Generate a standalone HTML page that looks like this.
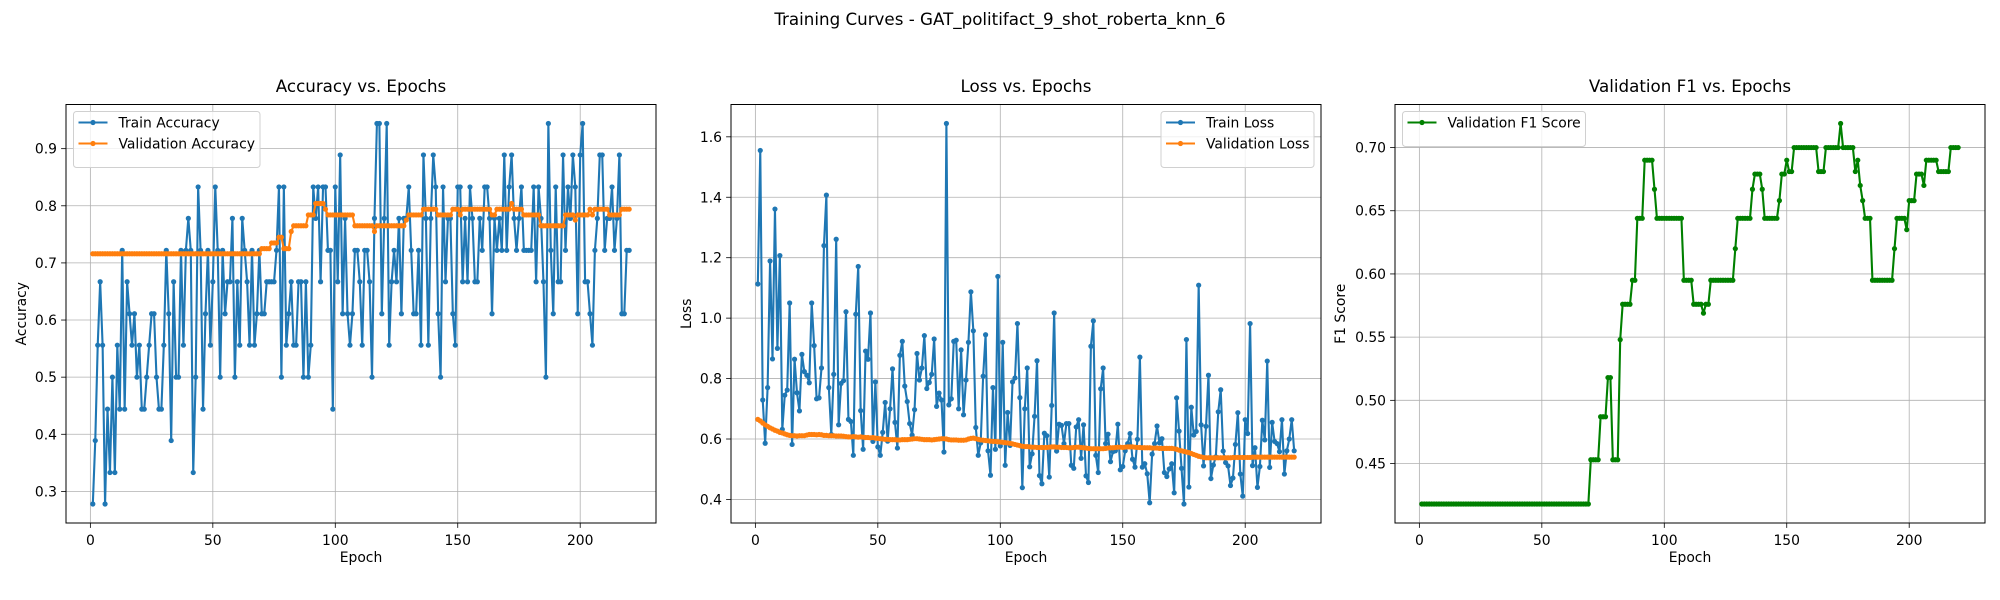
<!DOCTYPE html>
<html><head><meta charset="utf-8">
<style>
html,body{margin:0;padding:0;background:#fff;}
svg{display:block;font-family:"DejaVu Sans","Liberation Sans",sans-serif;}
</style></head>
<body>
<svg id="fig" width="2000" height="600" viewBox="0 0 2000 600" xmlns="http://www.w3.org/2000/svg">
<rect x="0" y="0" width="2000" height="600" fill="#fff"/>
<text x="1000" y="25" text-anchor="middle" font-size="16.7">Training Curves - GAT_politifact_9_shot_roberta_knn_6</text>
</svg>
<script>
const trainAcc = [
.278,.389,.556,.667,.556,.278,.444,.333,.5,.333,
.556,.444,.722,.444,.667,.611,.556,.611,.5,.556,
.444,.444,.5,.556,.611,.611,.5,.444,.444,.556,
.722,.611,.389,.667,.5,.5,.722,.556,.722,.778,
.722,.333,.5,.833,.722,.444,.611,.722,.556,.667,
.833,.722,.5,.722,.611,.667,.667,.778,.5,.667,
.556,.778,.722,.667,.556,.722,.556,.611,.722,.611,
.611,.667,.667,.667,.667,.722,.833,.5,.833,.556,
.611,.667,.556,.556,.667,.667,.5,.667,.5,.556,
.833,.778,.833,.667,.833,.833,.722,.722,.444,.833,
.667,.889,.611,.778,.611,.556,.611,.722,.722,.667,
.556,.722,.722,.667,.5,.778,.944,.944,.611,.778,
.944,.556,.667,.722,.667,.778,.611,.778,.778,.833,
.722,.611,.611,.722,.556,.889,.778,.556,.778,.889,
.833,.611,.5,.833,.667,.778,.778,.611,.556,.833,
.833,.667,.778,.667,.833,.778,.667,.667,.778,.722,
.833,.833,.778,.611,.778,.722,.778,.722,.889,.722,
.833,.889,.778,.722,.778,.833,.722,.722,.722,.722,
.833,.667,.833,.778,.667,.5,.944,.722,.611,.833,
.667,.667,.889,.722,.833,.778,.889,.833,.611,.889,
.944,.667,.667,.611,.556,.722,.778,.889,.889,.722,
.778,.778,.833,.722,.778,.889,.611,.611,.722,.722];
const valAcc = [
.716,.716,.716,.716,.716,.716,.716,.716,.716,.716,
.716,.716,.716,.716,.716,.716,.716,.716,.716,.716,
.716,.716,.716,.716,.716,.716,.716,.716,.716,.716,
.716,.716,.716,.716,.716,.716,.716,.716,.716,.716,
.716,.716,.716,.716,.716,.716,.716,.716,.716,.716,
.716,.716,.716,.716,.716,.716,.716,.716,.716,.716,
.716,.716,.716,.716,.716,.716,.716,.716,.716,.725,
.725,.725,.725,.735,.735,.735,.745,.745,.725,.725,
.725,.755,.765,.765,.765,.765,.765,.765,.784,.784,
.784,.804,.804,.804,.804,.794,.784,.784,.784,.784,
.784,.784,.784,.784,.784,.784,.784,.765,.765,.765,
.765,.765,.765,.765,.765,.755,.765,.765,.765,.765,
.765,.765,.765,.765,.765,.765,.765,.765,.775,.784,
.784,.784,.784,.784,.784,.794,.794,.794,.794,.794,
.794,.784,.784,.784,.784,.784,.784,.794,.794,.794,
.784,.794,.794,.794,.794,.794,.794,.794,.794,.794,
.794,.794,.794,.784,.784,.794,.794,.794,.794,.794,
.794,.804,.794,.794,.794,.794,.784,.784,.784,.784,
.784,.784,.784,.765,.765,.765,.765,.765,.765,.765,
.765,.765,.765,.784,.784,.784,.784,.775,.784,.784,
.784,.784,.784,.794,.784,.794,.794,.794,.794,.794,
.794,.784,.784,.784,.784,.784,.794,.794,.794,.794];
const trainLoss = [
1.113,1.555,.729,.586,.770,1.189,.865,1.361,.900,1.207,
.632,.745,.762,1.050,.582,.864,.753,.693,.880,.823,
.811,.786,1.050,.909,.733,.736,.835,1.240,1.407,.770,
.615,.814,1.261,.647,.784,.793,1.021,.665,.658,.546,
1.013,1.171,.694,.566,.891,.864,1.017,.592,.789,.574,
.546,.622,.721,.593,.700,.832,.655,.570,.877,.923,
.775,.724,.651,.613,.697,.883,.795,.835,.942,.767,
.787,.814,.931,.708,.752,.729,.557,1.644,.713,.733,
.923,.927,.700,.895,.680,.795,.920,1.087,.958,.638,
.546,.587,.808,.945,.561,.480,.770,.566,1.138,.577,
.920,.513,.688,.579,.789,.802,.982,.737,.439,.700,
.835,.508,.551,.675,.859,.479,.452,.619,.611,.474,
.711,1.017,.560,.649,.645,.585,.651,.651,.513,.503,
.640,.664,.536,.647,.478,.456,.907,.991,.546,.489,
.766,.835,.585,.616,.525,.558,.561,.649,.498,.509,
.561,.585,.618,.533,.507,.599,.871,.507,.518,.485,
.389,.550,.585,.643,.587,.601,.489,.476,.501,.518,
.422,.736,.626,.503,.385,.929,.441,.705,.613,.625,
1.109,.647,.511,.642,.811,.469,.514,.541,.690,.763,
.560,.522,.511,.446,.471,.582,.687,.484,.411,.664,
.618,.982,.512,.571,.440,.509,.662,.597,.858,.506,
.655,.592,.585,.558,.664,.484,.561,.600,.664,.561];
const valLoss = [
.665,.660,.653,.647,.642,.637,.633,.629,.626,.622,
.620,.617,.614,.612,.611,.611,.610,.611,.611,.611,
.613,.615,.615,.615,.614,.615,.614,.612,.612,.611,
.611,.611,.610,.610,.610,.609,.608,.607,.607,.608,
.607,.606,.607,.606,.605,.605,.604,.605,.603,.602,
.601,.600,.599,.599,.598,.598,.598,.597,.597,.598,
.598,.598,.599,.600,.601,.601,.600,.599,.598,.598,
.598,.597,.598,.599,.600,.601,.601,.600,.598,.597,
.597,.597,.596,.596,.596,.597,.600,.602,.603,.601,
.599,.597,.596,.595,.594,.593,.592,.592,.591,.590,
.589,.588,.587,.586,.584,.582,.580,.578,.576,.575,
.575,.574,.573,.573,.572,.572,.572,.572,.572,.573,
.574,.574,.573,.573,.572,.572,.572,.571,.571,.572,
.573,.573,.572,.571,.570,.569,.568,.568,.568,.568,
.568,.568,.569,.570,.571,.571,.572,.573,.573,.572,
.573,.574,.574,.574,.573,.572,.572,.571,.571,.571,
.571,.570,.570,.570,.569,.569,.569,.569,.569,.569,
.568,.566,.563,.561,.559,.557,.555,.552,.549,.546,
.543,.541,.539,.538,.538,.538,.538,.538,.538,.538,
.538,.538,.538,.538,.539,.539,.539,.539,.539,.539,
.539,.539,.540,.540,.540,.540,.540,.540,.540,.540,
.540,.540,.540,.540,.540,.540,.540,.540,.540,.540];
const valF1 = [
.418,.418,.418,.418,.418,.418,.418,.418,.418,.418,
.418,.418,.418,.418,.418,.418,.418,.418,.418,.418,
.418,.418,.418,.418,.418,.418,.418,.418,.418,.418,
.418,.418,.418,.418,.418,.418,.418,.418,.418,.418,
.418,.418,.418,.418,.418,.418,.418,.418,.418,.418,
.418,.418,.418,.418,.418,.418,.418,.418,.418,.418,
.418,.418,.418,.418,.418,.418,.418,.418,.418,.453,
.453,.453,.453,.487,.487,.487,.518,.518,.453,.453,
.453,.548,.576,.576,.576,.576,.595,.595,.644,.644,
.644,.690,.690,.690,.690,.667,.644,.644,.644,.644,
.644,.644,.644,.644,.644,.644,.644,.595,.595,.595,
.595,.576,.576,.576,.576,.569,.576,.576,.595,.595,
.595,.595,.595,.595,.595,.595,.595,.595,.620,.644,
.644,.644,.644,.644,.644,.667,.679,.679,.679,.667,
.644,.644,.644,.644,.644,.644,.658,.679,.679,.690,
.681,.681,.700,.700,.700,.700,.700,.700,.700,.700,
.700,.700,.681,.681,.681,.700,.700,.700,.700,.700,
.700,.719,.700,.700,.700,.700,.700,.681,.690,.670,
.658,.644,.644,.644,.595,.595,.595,.595,.595,.595,
.595,.595,.595,.620,.644,.644,.644,.644,.635,.658,
.658,.658,.679,.679,.679,.670,.690,.690,.690,.690,
.690,.681,.681,.681,.681,.681,.700,.700,.700,.700];
const xTicks = [0,50,100,150,200];
const accTicks = [0.3,0.4,0.5,0.6,0.7,0.8,0.9];
const lossTicks = [0.4,0.6,0.8,1.0,1.2,1.4,1.6];
const f1Ticks = [0.45,0.50,0.55,0.60,0.65,0.70];

const NS = 'http://www.w3.org/2000/svg';
const fig = document.getElementById('fig');
const TOP = 104.5, BOT = 523;

function mk(tag, attrs, parent){
  const e = document.createElementNS(NS, tag);
  for (const k in attrs) e.setAttribute(k, attrs[k]);
  (parent||fig).appendChild(e);
  return e;
}

function panel(cfg){
  const g = mk('g', {});
  
  
  const L = cfg.left, R = cfg.left + 590;
  const n = Math.max(...cfg.series.map(s => s.data.length));
  const xr = n - 1, x0 = 1 - 0.05*xr, x1 = n + 0.05*xr;
  const all = [].concat(...cfg.series.map(s => s.data));
  const mn = Math.min(...all), mx = Math.max(...all), pad = (mx - mn)*0.05;
  const y0 = mn - pad, y1 = mx + pad;
  const X = v => L + (v - x0)/(x1 - x0)*(R - L);
  const Y = v => BOT - (v - y0)/(y1 - y0)*(BOT - TOP);
  xTicks.forEach(t => {
    const xx = X(t);
    const gl = mk('line', {x1:xx, x2:xx, y1:TOP, y2:BOT, stroke:'#b0b0b0', 'stroke-width':0.8}, g);
    
    
    mk('line', {x1:xx, x2:xx, y1:BOT, y2:BOT+4.9, stroke:'#000', 'stroke-width':0.8}, g);
    const tl = mk('text', {x:xx, y:BOT+22, 'text-anchor':'middle', 'font-size':13.9}, g);
    
    
    tl.textContent = t;
  });
  cfg.yTicks.forEach(t => {
    const yy = Y(t);
    const gl = mk('line', {x1:L, x2:R, y1:yy, y2:yy, stroke:'#b0b0b0', 'stroke-width':0.8}, g);
    
    
    mk('line', {x1:L-4.9, x2:L, y1:yy, y2:yy, stroke:'#000', 'stroke-width':0.8}, g);
    const tl = mk('text', {x:L-9, y:yy+5, 'text-anchor':'end', 'font-size':13.9}, g);
    
    
    tl.textContent = t.toFixed(cfg.dec);
  });
  cfg.series.forEach(s => {
    const sg = mk('g', {}, g);
    
    
    const pts = s.data.map((v,i) => X(i+1).toFixed(2)+','+Y(v).toFixed(2)).join(' ');
    const pl = mk('polyline', {points:pts, fill:'none', stroke:s.color, 'stroke-width':2.1, 'stroke-linejoin':'round'}, sg);
    
    
    s.data.forEach((v,i) => {
      const c = mk('circle', {cx:X(i+1), cy:Y(v), r:2.6, fill:s.color}, sg);
      
      
    });
  });
  const fr = mk('rect', {x:L, y:TOP, width:R-L, height:BOT-TOP, fill:'none', stroke:'#000', 'stroke-width':1}, g);
  
  
  const ti = mk('text', {x:(L+R)/2, y:92, 'text-anchor':'middle', 'font-size':16.7}, g);
  
  
  ti.textContent = cfg.title;
  const xl = mk('text', {x:(L+R)/2, y:BOT+39, 'text-anchor':'middle', 'font-size':13.9}, g);
  
  
  xl.textContent = 'Epoch';
  const yl = mk('text', {x:0, y:0, 'text-anchor':'middle', 'font-size':13.9, transform:'translate('+(cfg.ylabX+5)+','+((TOP+BOT)/2)+') rotate(-90)'}, g);
  
  
  yl.textContent = cfg.ylabel;
  const lg = mk('g', {}, g);
  
  
  const h = 10 + cfg.series.length*21 + 4;
  mk('rect', {x:cfg.legX, y:TOP+7, width:cfg.legW, height:h, rx:3, fill:'#fff', 'fill-opacity':0.8, stroke:'#d0d0d0', 'stroke-width':1}, lg);
  cfg.series.forEach((s,i) => {
    const yy = TOP + 18 + i*21;
    const le = mk('g', {}, lg);
    
    
    mk('line', {x1:cfg.legX+5, x2:cfg.legX+34, y1:yy, y2:yy, stroke:s.color, 'stroke-width':2.1}, le);
    mk('circle', {cx:cfg.legX+19.5, cy:yy, r:2.6, fill:s.color}, le);
    const t = mk('text', {x:cfg.legX+45, y:yy+5, 'font-size':13.9}, le);
    t.textContent = s.label;
  });
}

panel({name:'accuracy-panel', left:66, title:'Accuracy vs. Epochs', ylabel:'Accuracy', ylabX:21, yTicks:accTicks, dec:1,
  legX:73.5, legW:186.5,
  series:[{key:'train-accuracy', label:'Train Accuracy', color:'#1f77b4', data:trainAcc},
          {key:'validation-accuracy', label:'Validation Accuracy', color:'#ff7f0e', data:valAcc}]});
panel({name:'loss-panel', left:731, title:'Loss vs. Epochs', ylabel:'Loss', ylabX:686, yTicks:lossTicks, dec:1,
  legX:1161, legW:153,
  series:[{key:'train-loss', label:'Train Loss', color:'#1f77b4', data:trainLoss},
          {key:'validation-loss', label:'Validation Loss', color:'#ff7f0e', data:valLoss}]});
panel({name:'f1-panel', left:1395, title:'Validation F1 vs. Epochs', ylabel:'F1 Score', ylabX:1340, yTicks:f1Ticks, dec:2,
  legX:1402.5, legW:183,
  series:[{key:'validation-f1', label:'Validation F1 Score', color:'#008000', data:valF1}]});
</script>
</body></html>
